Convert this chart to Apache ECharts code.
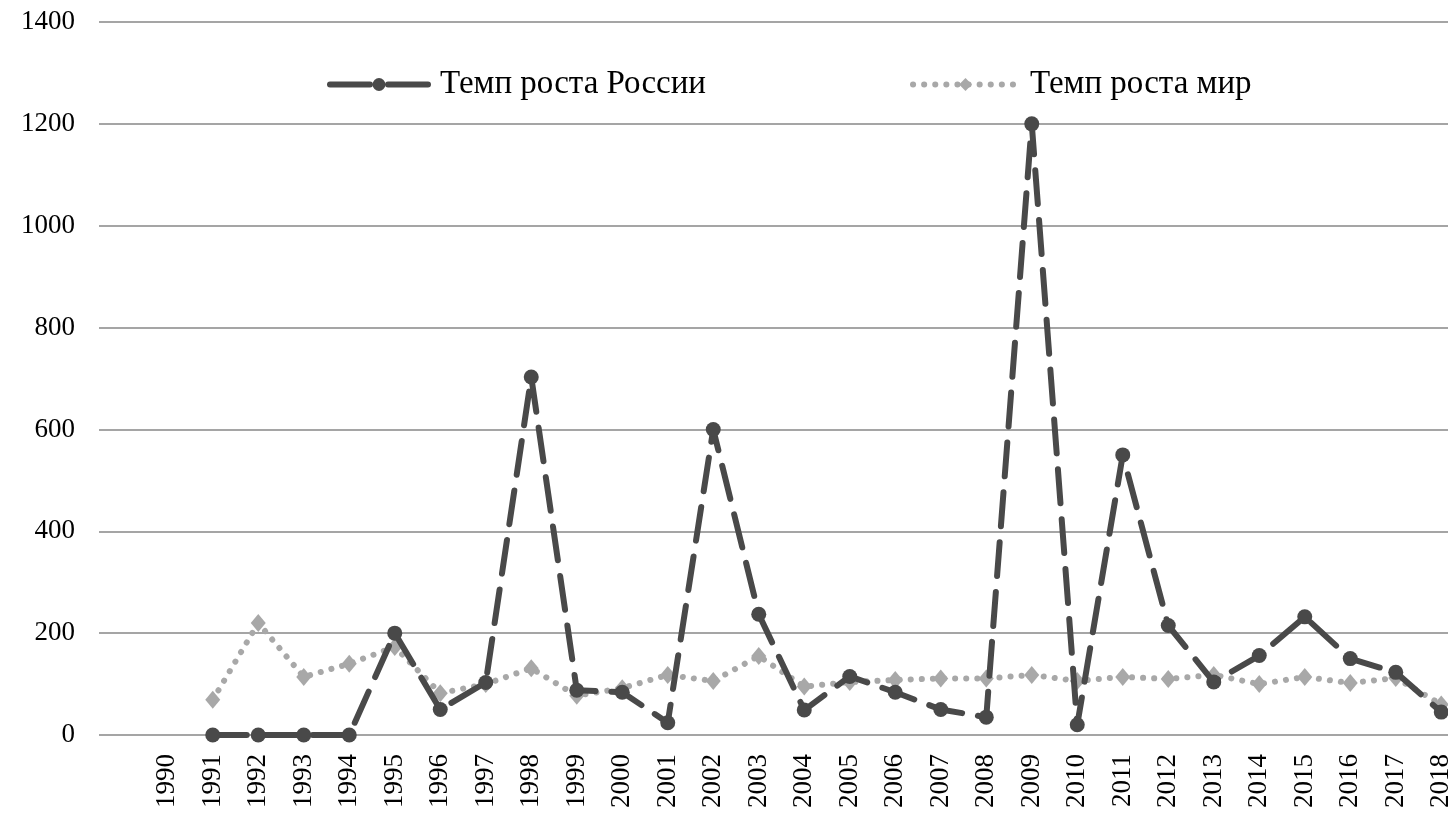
<!DOCTYPE html>
<html>
<head>
<meta charset="utf-8">
<script src="https://cdn.jsdelivr.net/npm/echarts@6/dist/echarts.min.js"></script>
<style>
  html, body { margin: 0; padding: 0; background: #fff; overflow: hidden; }
  /* the original plot runs past the right edge of the picture */
  #chart { width: 1464px; height: 814px; }
</style>
</head>
<body>
<div id="chart"></div>
<script>
// years on the x axis (first band is empty in the original)
const years = ["", "1990", "1991", "1992", "1993", "1994", "1995", "1996", "1997", "1998", "1999",
  "2000", "2001", "2002", "2003", "2004", "2005", "2006", "2007", "2008", "2009",
  "2010", "2011", "2012", "2013", "2014", "2015", "2016", "2017", "2018"];

const russia = [null, null, 0, 0, 0, 0, 200, 50, 103, 703, 88,
  84, 24, 600, 237, 49, 115, 84, 50, 35, 1200,
  20, 550, 215, 104, 156, 232, 150, 123, 45];

const world = [null, null, 69, 220, 114, 140, 173, 82, 100, 131, 77,
  92, 118, 106, 155, 95, 104, 108, 111, 111, 118,
  106, 114, 110, 118, 100, 114, 102, 112, 60];

const yTicks = [0, 200, 400, 600, 800, 1000, 1200, 1400];

const serif = "'Liberation Serif', 'DejaVu Serif', serif";
const dark = "#494949";
const light = "#a8a8a8";

const chart = echarts.init(document.getElementById("chart"), null, { renderer: "canvas" });

const option = {
  animation: false,
  backgroundColor: "#fff",
  textStyle: { fontFamily: serif },
  legend: [
    {
      data: ["Темп роста России"],
      left: 322,
      top: 63,
      itemWidth: 98,
      itemHeight: 16,
      lineStyle: { width: 6, type: [40, 18], color: dark },
      textStyle: { fontFamily: serif, fontSize: 33, color: "#000", padding: [0, 0, 0, 7] }
    },
    {
      data: ["Темп роста мир"],
      left: 905,
      top: 63,
      itemWidth: 105,
      itemHeight: 16,
      lineStyle: { width: 6, type: [0.1, 11], cap: "round", color: light },
      textStyle: { fontFamily: serif, fontSize: 33, color: "#000", padding: [0, 0, 0, 7] }
    }
  ],
  grid: { left: 99, top: 22, width: 1365, bottom: 79 },
  xAxis: {
    type: "category",
    data: years,
    boundaryGap: true,
    axisLine: { show: false },
    axisTick: { show: false },
    axisLabel: {
      interval: 0,
      rotate: 90,
      margin: 19,
      fontFamily: serif,
      fontSize: 27,
      color: "#000"
    }
  },
  yAxis: {
    type: "value",
    min: yTicks[0],
    max: yTicks[yTicks.length - 1],
    interval: 200,
    axisLine: { show: false },
    axisTick: { show: false },
    axisLabel: {
      margin: 24,
      fontFamily: serif,
      fontSize: 27,
      color: "#000",
      formatter: function (v) { return String(v); }
    },
    splitLine: { lineStyle: { color: "#878787", width: 1.5 } }
  },
  series: [
    {
      name: "Темп роста России",
      type: "line",
      data: russia,
      symbol: "circle",
      symbolSize: 15,
      itemStyle: { color: dark },
      lineStyle: { color: dark, width: 6, type: [34, 16], cap: "round" },
      z: 3
    },
    {
      name: "Темп роста мир",
      type: "line",
      data: world,
      symbol: "diamond",
      symbolSize: [15, 18],
      itemStyle: { color: light },
      lineStyle: { color: light, width: 6, type: [0.1, 11], cap: "round" },
      z: 2
    }
  ]
};

chart.setOption(option);
</script>
</body>
</html>
